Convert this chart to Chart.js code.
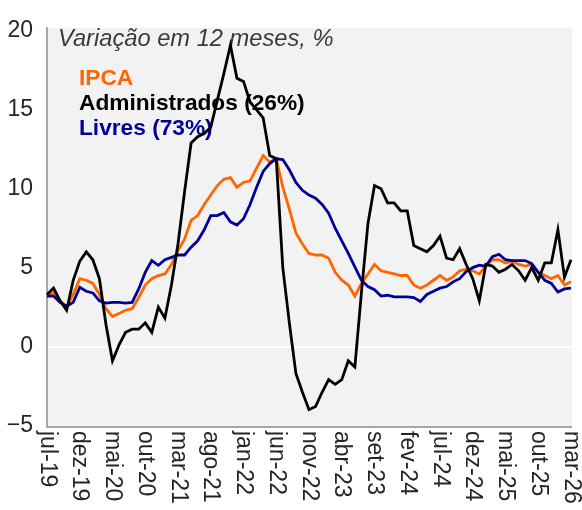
<!DOCTYPE html>
<html>
<head>
<meta charset="utf-8">
<script src="https://cdn.jsdelivr.net/npm/chart.js@4.4.1/dist/chart.umd.min.js"></script>
<style>
  html, body { margin: 0; padding: 0; background: #ffffff; }
  #wrap { width: 582px; height: 510px; position: relative; }
</style>
</head>
<body>
<div id="wrap"><canvas id="chart-area"></canvas></div>
<script>
// months jul-19 .. mar-26
var monthNames = ['jan', 'fev', 'mar', 'abr', 'mai', 'jun', 'jul', 'ago', 'set', 'out', 'nov', 'dez'];
var firstMonth = 6, firstYear = 19, monthCount = 81;

var xTickLabels = ['jul-19', 'dez-19', 'mai-20', 'out-20', 'mar-21', 'ago-21', 'jan-22', 'jun-22', 'nov-22',
  'abr-23', 'set-23', 'fev-24', 'jul-24', 'dez-24', 'mai-25', 'out-25', 'mar-26'];
var yTicks = [-5, 0, 5, 10, 15, 20];

var ipca = [3.2, 3.4, 2.9, 2.5, 3.3, 4.3, 4.2, 4.0, 3.3, 2.4, 1.9, 2.1, 2.3, 2.4, 3.1, 3.9, 4.3, 4.5, 4.6, 5.2,
  6.1, 6.8, 8.0, 8.3, 9.0, 9.6, 10.2, 10.6, 10.7, 10.1, 10.4, 10.5, 11.3, 12.1, 11.7, 11.9, 10.1, 8.7, 7.2, 6.5,
  5.9, 5.8, 5.8, 5.6, 4.7, 4.2, 3.9, 3.2, 4.0, 4.6, 5.2, 4.8, 4.7, 4.6, 4.5, 4.5, 3.9, 3.7, 3.9, 4.2,
  4.5, 4.2, 4.4, 4.8, 4.9, 4.8, 4.6, 5.1, 5.5, 5.5, 5.3, 5.4, 5.2, 5.1, 5.2, 4.7, 4.5, 4.3, 4.5, 3.9, 4.1];

var administrados = [3.3, 3.7, 2.9, 2.3, 4.2, 5.4, 6.0, 5.5, 4.3, 1.4, -0.9, 0.1, 0.9, 1.1, 1.1, 1.5, 0.9, 2.5, 1.8, 3.9,
  6.5, 9.8, 12.9, 13.3, 13.5, 13.9, 15.6, 17.3, 19.1, 17.0, 16.8, 15.5, 15.0, 14.5, 12.1, 11.9, 5.0, 1.5, -1.7, -2.9,
  -4.0, -3.8, -2.9, -2.1, -2.4, -2.1, -0.9, -1.3, 3.4, 7.8, 10.2, 10.0, 9.1, 9.1, 8.6, 8.6, 6.4, 6.2, 6.0, 6.4,
  7.0, 5.6, 5.5, 6.2, 5.2, 4.3, 2.9, 5.2, 5.1, 4.7, 4.9, 5.2, 4.8, 4.2, 5.0, 4.2, 5.3, 5.3, 7.4, 4.4, 5.5];

var livres = [3.2, 3.2, 2.8, 2.55, 2.8, 3.75, 3.5, 3.4, 2.9, 2.75, 2.8, 2.8, 2.75, 2.8, 3.65, 4.7, 5.45, 5.15, 5.5, 5.65,
  5.8, 5.8, 6.3, 6.7, 7.4, 8.3, 8.3, 8.5, 7.9, 7.7, 8.1, 9.0, 10.1, 11.1, 11.6, 11.9, 11.85, 11.2, 10.4, 9.9,
  9.6, 9.4, 9.0, 8.45, 7.5, 6.7, 5.9, 5.05, 4.2, 3.8, 3.6, 3.2, 3.25, 3.15, 3.15, 3.15, 3.1, 2.85, 3.3, 3.5,
  3.7, 3.8, 4.1, 4.3, 4.75, 5.0, 5.15, 5.1, 5.7, 5.85, 5.5, 5.45, 5.45, 5.45, 5.25, 4.7, 4.2, 4.0, 3.45, 3.65, 3.7];

var colors = {
  ipca: '#ff6600',
  adm: '#000000',
  livres: '#000099',
  plotBg: '#f2f2f2',
  axis: '#a6a6a6',
  text: '#262626'
};

var labels = [];
for (var i = 0; i < monthCount; i++) {
  var m = firstMonth + i;
  labels.push(monthNames[m % 12] + '-' + (firstYear + Math.floor(m / 12)));
}

var FONT = '"Liberation Sans", Arial, sans-serif';

var decorPlugin = {
  id: 'decor',
  beforeDraw: function (chart) {
    var a = chart.chartArea, ctx = chart.ctx;
    ctx.save();
    ctx.fillStyle = colors.plotBg;
    ctx.fillRect(a.left, a.top, a.right - a.left + 1, a.bottom - a.top);
    ctx.restore();
  },
  beforeDatasetsDraw: function (chart) {
    var ctx = chart.ctx;
    ctx.save();
    ctx.textAlign = 'left';
    ctx.textBaseline = 'alphabetic';
    ctx.font = 'italic 23.7px ' + FONT;
    ctx.fillStyle = '#3a3a3a';
    ctx.fillText('Variação em 12 meses, %', 58, 46);
    ctx.font = 'bold 22.7px ' + FONT;
    ctx.fillStyle = colors.ipca;
    ctx.fillText('IPCA', 79, 85);
    ctx.fillStyle = colors.adm;
    ctx.fillText('Administrados (26%)', 79, 110);
    ctx.fillStyle = colors.livres;
    ctx.fillText('Livres (73%)', 79, 135);
    ctx.restore();
  },
  afterDraw: function (chart) {
    var ctx = chart.ctx, xs = chart.scales.x, a = chart.chartArea;
    ctx.save();
    ctx.font = '23px ' + FONT;
    ctx.fillStyle = colors.text;
    ctx.textAlign = 'left';
    ctx.textBaseline = 'middle';
    xTickLabels.forEach(function (lab) {
      var idx = labels.indexOf(lab);
      if (idx < 0) return;
      var x = xs.getPixelForValue(idx);
      ctx.save();
      ctx.translate(x, a.bottom + 4);
      ctx.rotate(Math.PI / 2);
      ctx.fillText(lab, 0, 0);
      ctx.restore();
    });
    ctx.restore();
  }
};

var ctx = document.getElementById('chart-area').getContext('2d');
var chart = new Chart(ctx, {
  type: 'line',
  data: {
    labels: labels,
    datasets: [
      { label: 'Administrados (26%)', data: administrados, borderColor: colors.adm },
      { label: 'Livres (73%)', data: livres, borderColor: colors.livres },
      { label: 'IPCA', data: ipca, borderColor: colors.ipca }
    ]
  },
  options: {
    responsive: true,
    maintainAspectRatio: false,
    animation: false,
    layout: { padding: { top: 18, right: 11, left: 0, bottom: 0 } },
    elements: {
      line: { borderWidth: 2.8, tension: 0, fill: false },
      point: { radius: 0, hoverRadius: 0 }
    },
    plugins: {
      legend: { display: false },
      tooltip: { enabled: false }
    },
    scales: {
      x: {
        type: 'category',
        offset: false,
        grid: { display: false, drawTicks: false },
        border: { display: true, color: colors.axis, width: 2 },
        ticks: { display: false },
        afterFit: function (scale) { scale.height = 83; }
      },
      y: {
        min: -5.1,
        max: 20.2,
        afterBuildTicks: function (scale) {
          scale.ticks = yTicks.map(function (v) { return { value: v }; });
        },
        grid: {
          drawTicks: false,
          lineWidth: 2,
          color: function (c) { return c.tick && c.tick.value === 0 ? '#ffffff' : 'rgba(0,0,0,0)'; }
        },
        border: { display: true, color: colors.axis, width: 2 },
        ticks: {
          padding: 14,
          color: colors.text,
          font: { family: FONT, size: 23 },
          callback: function (v) { return String(v).replace('-', '\u2212'); }
        },
        afterFit: function (scale) { scale.width = 47; }
      }
    }
  },
  plugins: [decorPlugin]
});
</script>
</body>
</html>
